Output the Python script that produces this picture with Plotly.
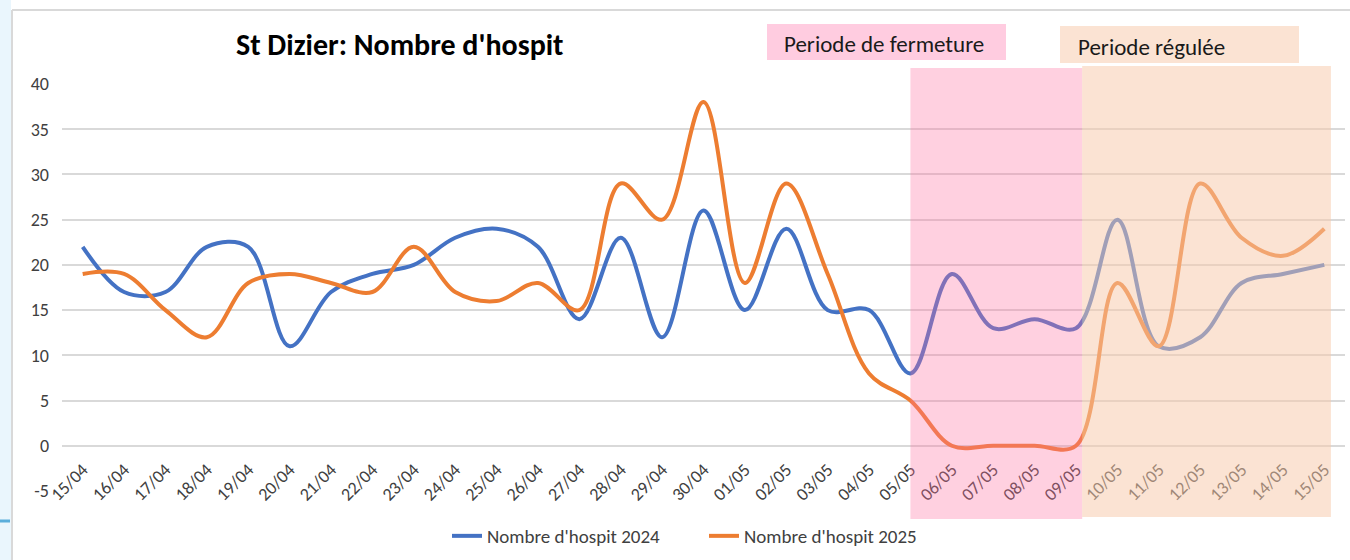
import plotly.graph_objects as go

dates = ["15/04", "16/04", "17/04", "18/04", "19/04", "20/04", "21/04", "22/04",
         "23/04", "24/04", "25/04", "26/04", "27/04", "28/04", "29/04", "30/04",
         "01/05", "02/05", "03/05", "04/05", "05/05", "06/05", "07/05", "08/05",
         "09/05", "10/05", "11/05", "12/05", "13/05", "14/05", "15/05"]
hosp_2024 = [22, 17, 17, 22, 22, 11, 17, 19, 20, 23, 24, 22, 14, 23, 12, 26,
             15, 24, 15, 15, 8, 19, 13, 14, 13, 25, 11, 12, 18, 19, 20]
hosp_2025 = [19, 19, 15, 12, 18, 19, 18, 17, 22, 17, 16, 18, 15, 29, 25, 38,
             18, 29, 19, 8, 5, 0, 0, 0, 0, 18, 11, 29, 23, 21, 24]
y_ticks = [-5, 0, 5, 10, 15, 20, 25, 30, 35, 40]
y_ticklabels = ["-5", "0", "5", "10", "15", "20", "25", "30", "35", "40"]
name_2024 = "Nombre d'hospit 2024"
name_2025 = "Nombre d'hospit 2025"
title_text = "St Dizier: Nombre d'hospit"
label_closed = "Periode de fermeture"
label_regulated = "Periode régulée"
closed_start, closed_end = "05/05", "09/05"

W, H = 1350, 560
ML, MR, MT, MB = 62, 5, 84, 69
PW, PH = W - ML - MR, H - MT - MB
FONT = "Carlito, Lato, sans-serif"


def px_x(px):
    return (px - ML) / PW


def px_y(py):
    return (H - MB - py) / PH


i0 = dates.index(closed_start)
i1 = dates.index(closed_end) + 0.15
i2 = len(dates) - 1 + 0.16

fig = go.Figure()
fig.add_trace(go.Scatter(x=dates, y=hosp_2024, name=name_2024, mode="lines",
                         line=dict(color="#4472C4", width=4, shape="spline", smoothing=1)))
fig.add_trace(go.Scatter(x=dates, y=hosp_2025, name=name_2025, mode="lines",
                         line=dict(color="#ED7D31", width=4, shape="spline", smoothing=1)))

shapes = [
    # left page strip and chart frame
    dict(type="rect", xref="paper", yref="paper", x0=px_x(0), x1=px_x(11),
         y0=px_y(H), y1=px_y(0), fillcolor="#EAF6FD", line_width=0, layer="below"),
    dict(type="line", xref="paper", yref="paper", x0=px_x(0), x1=px_x(10),
         y0=px_y(521), y1=px_y(521), line=dict(color="#5BAEDB", width=3)),
    dict(type="line", xref="paper", yref="paper", x0=px_x(12), x1=px_x(12),
         y0=px_y(10), y1=px_y(H), line=dict(color="#D9D9D9", width=2)),
    dict(type="line", xref="paper", yref="paper", x0=px_x(12), x1=px_x(W),
         y0=px_y(10), y1=px_y(10), line=dict(color="#D9D9D9", width=2)),
    # shaded periods (over the lines)
    dict(type="rect", xref="x", yref="paper", x0=i0, x1=i1,
         y0=px_y(519), y1=px_y(68), fillcolor="#FF70A1", opacity=0.33,
         line_width=0, layer="above"),
    dict(type="rect", xref="x", yref="paper", x0=i1, x1=i2,
         y0=px_y(517), y1=px_y(66), fillcolor="#F7C9AA", opacity=0.52,
         line_width=0, layer="above"),
    # label boxes
    dict(type="rect", xref="paper", yref="paper", x0=px_x(767), x1=px_x(1006),
         y0=px_y(60), y1=px_y(24), fillcolor="#FFCCE0", line_width=0, layer="above"),
    dict(type="rect", xref="paper", yref="paper", x0=px_x(1060), x1=px_x(1299),
         y0=px_y(63), y1=px_y(26), fillcolor="#FBE3D3", line_width=0, layer="above"),
]

annotations = [
    dict(text="<b>" + title_text + "</b>", xref="paper", yref="paper",
         x=px_x(400), y=px_y(44), xanchor="center", yanchor="middle",
         showarrow=False, font=dict(family=FONT, size=30, color="#000000")),
    dict(text=label_closed, xref="paper", yref="paper",
         x=px_x(782), y=px_y(44), xanchor="left", yanchor="middle",
         showarrow=False, font=dict(family=FONT, size=23, color="#1a1a1a")),
    dict(text=label_regulated, xref="paper", yref="paper",
         x=px_x(1076), y=px_y(47), xanchor="left", yanchor="middle",
         showarrow=False, font=dict(family=FONT, size=23, color="#1a1a1a")),
]

fig.update_layout(
    width=W, height=H,
    margin=dict(l=ML, r=MR, t=MT, b=MB),
    paper_bgcolor="white", plot_bgcolor="white",
    font=dict(family=FONT, color="#404040"),
    shapes=shapes, annotations=annotations,
    showlegend=True,
    legend=dict(orientation="h", x=px_x(447), y=px_y(536), xanchor="left",
                yanchor="middle", entrywidth=212, entrywidthmode="pixels",
                font=dict(family=FONT, size=19, color="#404040"),
                bgcolor="rgba(0,0,0,0)"),
    xaxis=dict(type="category", range=[-0.5, len(dates) - 0.5], anchor="free",
               position=5 / 45, tickangle=-45, showgrid=False, showline=False,
               zeroline=False, ticks="", ticklabelstandoff=9,
               tickfont=dict(family=FONT, size=18, color="#404040")),
    yaxis=dict(range=[-5, 40], tickmode="array", tickvals=y_ticks, ticktext=y_ticklabels,
               showgrid=True, gridcolor="#D9D9D9",
               gridwidth=1.5, zeroline=False, showline=False, ticks="",
               ticklabelstandoff=12,
               tickfont=dict(family=FONT, size=18, color="#404040")),
)

fig.write_html("out.html", config={"displayModeBar": False},
               post_script="document.body.style.margin='0';document.body.style.padding='0';")
